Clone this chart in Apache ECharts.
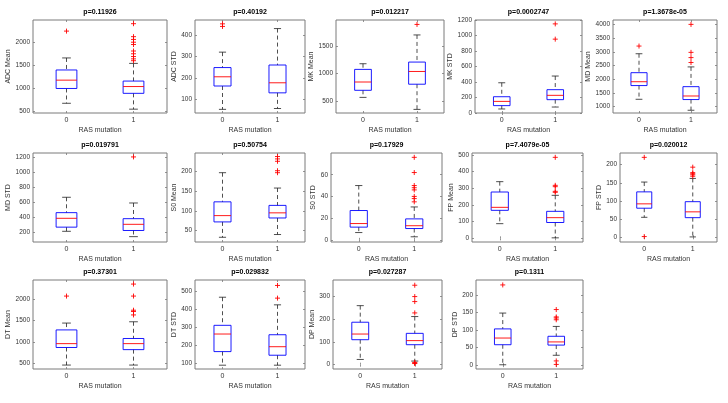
<!DOCTYPE html>
<html><head><meta charset="utf-8">
<script src="https://cdn.jsdelivr.net/npm/echarts@6/dist/echarts.min.js"></script>
<style>html,body{margin:0;padding:0;background:#fff}#c{width:728px;height:403px}</style>
</head><body><div id="c"></div>
<script>
// ---------- DATA ----------
const groups = ['0', '1'];
const xLabel = 'RAS mutation';
// box stats per group: [lower whisker, Q1, median, Q3, upper whisker]
const adcMeanBox = [[680, 1000, 1180, 1400, 1660], [553, 895, 1042, 1160, 1542]];
const adcMeanOut = [[2240], [2400, 2120, 2060, 2000, 1950, 1810, 1750, 1690, 1640, 1600]];
const adcMeanTicks = [500, 1000, 1500, 2000];

const adcStdBox = [[53, 162, 205, 248, 320], [57, 130, 177, 260, 430]];
const adcStdOut = [[452, 440], []];
const adcStdTicks = [100, 200, 300, 400];

const mkMeanBox = [[572, 700, 850, 1078, 1180], [355, 810, 1040, 1210, 1700]];
const mkMeanOut = [[], [1890]];
const mkMeanTicks = [500, 1000, 1500];

const mkStdBox = [[52, 95, 150, 210, 390], [77, 172, 228, 301, 477]];
const mkStdOut = [[], [1150, 953]];
const mkStdTicks = [0, 200, 400, 600, 800, 1000, 1200];

const mdMeanBox = [[1270, 1770, 1910, 2240, 2930], [870, 1260, 1390, 1730, 2450]];
const mdMeanOut = [[3210], [4000, 2980, 2790, 2610]];
const mdMeanTicks = [1000, 1500, 2000, 2500, 3000, 3500, 4000];

const mdStdBox = [[209, 265, 384, 460, 667], [137, 220, 303, 379, 590]];
const mdStdOut = [[], [1210]];
const mdStdTicks = [200, 400, 600, 800, 1000, 1200];

const s0MeanBox = [[33, 72, 88, 123, 197], [40, 82, 95, 114, 158]];
const s0MeanOut = [[], [238, 232, 226, 202, 197]];
const s0MeanTicks = [50, 100, 150, 200];

const s0StdBox = [[6.7, 11.7, 15, 27, 50], [2.8, 10.4, 13, 19.3, 30.3]];
const s0StdOut = [[], [76, 62, 50, 48, 46, 40, 38, 35]];
const s0StdTicks = [0, 20, 40, 60];

const fpMeanBox = [[88, 168, 186, 278, 340], [3, 95, 124, 162, 258]];
const fpMeanOut = [[], [486, 318, 310, 282, 276]];
const fpMeanTicks = [0, 100, 200, 300, 400, 500];

const fpStdBox = [[55, 80, 92, 125, 152], [1, 54, 70, 98, 162]];
const fpStdOut = [[220, 2], [193, 178, 175, 172, 168]];
const fpStdTicks = [0, 50, 100, 150, 200];

const dtMeanBox = [[460, 870, 960, 1280, 1440], [460, 820, 960, 1080, 1470]];
const dtMeanOut = [[2070], [2350, 2070, 1740, 1710, 1630]];
const dtMeanTicks = [500, 1000, 1500, 2000];

const dtStdBox = [[90, 165, 262, 310, 465], [90, 145, 192, 258, 423]];
const dtStdOut = [[], [530, 460]];
const dtStdTicks = [100, 200, 300, 400, 500];

const dpMeanBox = [[23, 110, 135, 187, 260], [16, 88, 106, 138, 212]];
const dpMeanOut = [[], [350, 300, 278, 228, 10, 7, 5]];
const dpMeanTicks = [0, 100, 200, 300];

const dpStdBox = [[1, 58, 77, 103, 148], [28, 57, 66, 82, 110]];
const dpStdOut = [[228], [158, 137, 134, 129, 12, 2]];
const dpStdTicks = [0, 50, 100, 150, 200];

const titles = ['p=0.11926', 'p=0.40192', 'p=0.012217', 'p=0.0002747', 'p=1.3678e-05',
  'p=0.019791', 'p=0.50754', 'p=0.17929', 'p=7.4079e-05', 'p=0.020012',
  'p=0.37301', 'p=0.029832', 'p=0.027287', 'p=0.1311'];
const yNames = ['ADC Mean', 'ADC STD', 'MK Mean', 'MK STD', 'MD Mean',
  'MD STD', 'S0 Mean', 'S0 STD', 'FP Mean', 'FP STD',
  'DT Mean', 'DT STD', 'DP Mean', 'DP STD'];
const boxes = [adcMeanBox, adcStdBox, mkMeanBox, mkStdBox, mdMeanBox, mdStdBox, s0MeanBox, s0StdBox,
  fpMeanBox, fpStdBox, dtMeanBox, dtStdBox, dpMeanBox, dpStdBox];
const outliers = [adcMeanOut, adcStdOut, mkMeanOut, mkStdOut, mdMeanOut, mdStdOut, s0MeanOut, s0StdOut,
  fpMeanOut, fpStdOut, dtMeanOut, dtStdOut, dpMeanOut, dpStdOut];
const yTicks = [adcMeanTicks, adcStdTicks, mkMeanTicks, mkStdTicks, mdMeanTicks, mdStdTicks, s0MeanTicks,
  s0StdTicks, fpMeanTicks, fpStdTicks, dtMeanTicks, dtStdTicks, dpMeanTicks, dpStdTicks];

// ---------- AXIS RANGES & LAYOUT ----------
const yRanges = [[470, 2480], [36, 470], [290, 1970], [0, 1200], [770, 4160],
  [65, 1263], [21, 247], [-2, 80], [-22, 512], [-13, 232],
  [368, 2445], [69, 560], [-19, 373], [-11, 242]];
// [left, top, right, bottom] in px
const layout = [
  [33, 20, 167, 113], [195, 20, 305, 113], [336, 20, 444, 113], [475, 20, 582, 113], [613, 20, 717, 113],
  [33, 153, 167, 242], [195, 153, 305, 242], [331, 153, 442, 242], [472, 153, 583, 242], [620, 153, 717, 242],
  [33, 280, 167, 369], [195, 280, 305, 369], [333, 280, 442, 369], [476, 280, 583, 369]
];

const FONT = '"Liberation Sans", Arial, sans-serif';
const frameColor = '#7a7a7a';
const textColor = '#333';

function renderBox(params, api) {
  const i = api.value(0);
  const lo = api.coord([i, api.value(1)]);
  const q1 = api.coord([i, api.value(2)]);
  const md = api.coord([i, api.value(3)]);
  const q3 = api.coord([i, api.value(4)]);
  const hi = api.coord([i, api.value(5)]);
  const bw = api.size([1, 0])[0];
  const half = bw * 0.155;
  const cap = bw * 0.065;
  const x = lo[0];
  const dash = { stroke: '#222', lineWidth: 0.8, lineDash: [4, 3] };
  const solid = { stroke: '#222', lineWidth: 0.8 };
  return {
    type: 'group', children: [
      { type: 'line', shape: { x1: x, y1: hi[1], x2: x, y2: q3[1] }, style: dash },
      { type: 'line', shape: { x1: x, y1: q1[1], x2: x, y2: lo[1] }, style: dash },
      { type: 'line', shape: { x1: x - cap, y1: hi[1], x2: x + cap, y2: hi[1] }, style: solid },
      { type: 'line', shape: { x1: x - cap, y1: lo[1], x2: x + cap, y2: lo[1] }, style: solid },
      { type: 'rect', shape: { x: x - half, y: q3[1], width: 2 * half, height: q1[1] - q3[1] },
        style: { fill: 'none', stroke: '#0000ff', lineWidth: 0.9 } },
      { type: 'line', shape: { x1: x - half, y1: md[1], x2: x + half, y2: md[1] },
        style: { stroke: '#ff0000', lineWidth: 0.9 } }
    ]
  };
}
function renderPlus(params, api) {
  const p = api.coord([api.value(0), api.value(1)]);
  const s = 2.5;
  const st = { stroke: '#ff0000', lineWidth: 0.9 };
  return {
    type: 'group', children: [
      { type: 'line', shape: { x1: p[0] - s, y1: p[1], x2: p[0] + s, y2: p[1] }, style: st },
      { type: 'line', shape: { x1: p[0], y1: p[1] - s, x2: p[0], y2: p[1] + s }, style: st }
    ]
  };
}

const grid = [], xAxis = [], yAxis = [], series = [];
titles.forEach((title, k) => {
  const [l, t, r, b] = layout[k];
  grid.push({ left: l, top: t, width: r - l, height: b - t, show: true, borderColor: frameColor, borderWidth: 1 });
  const tick = { show: true, inside: true, alignWithLabel: true, length: 2, lineStyle: { color: frameColor, width: 0.8 } };
  xAxis.push({
    gridIndex: k, type: 'category', data: groups, position: 'bottom', boundaryGap: true,
    axisLine: { show: false }, axisTick: tick, splitLine: { show: false },
    axisLabel: { fontSize: 7, color: textColor, margin: 4, fontFamily: FONT },
    name: xLabel, nameLocation: 'middle', nameGap: 14,
    nameTextStyle: { fontSize: 7, color: textColor, fontFamily: FONT }
  });
  xAxis.push({
    gridIndex: k, type: 'category', data: groups, position: 'top', boundaryGap: true,
    axisLine: { show: false }, axisTick: tick, axisLabel: { show: false }, splitLine: { show: false },
    name: title, nameLocation: 'middle', nameGap: 4,
    nameTextStyle: { fontSize: 7, fontWeight: 'bold', color: '#000', fontFamily: FONT }
  });
  const ticks = yTicks[k];
  const maxLen = Math.max(...ticks.map(v => String(v).length));
  const ytick = { show: true, inside: true, length: 2, customValues: ticks, lineStyle: { color: frameColor, width: 0.8 } };
  yAxis.push({
    gridIndex: k, type: 'value', position: 'left', min: yRanges[k][0], max: yRanges[k][1],
    axisLine: { show: false }, splitLine: { show: false }, axisTick: ytick,
    axisLabel: { fontSize: 6.5, color: textColor, margin: 3, fontFamily: FONT, customValues: ticks,
      formatter: v => String(v) },
    name: yNames[k], nameLocation: 'middle', nameGap: 1 + maxLen * 3.6,
    nameTextStyle: { fontSize: 7, color: textColor, fontFamily: FONT }
  });
  yAxis.push({
    gridIndex: k, type: 'value', position: 'right', min: yRanges[k][0], max: yRanges[k][1],
    axisLine: { show: false }, splitLine: { show: false }, axisTick: ytick,
    axisLabel: { show: false, customValues: ticks }
  });
  series.push({
    type: 'custom', xAxisIndex: 2 * k, yAxisIndex: 2 * k, renderItem: renderBox, silent: true,
    encode: { x: 0, y: [1, 2, 3, 4, 5] },
    data: boxes[k].map((s, g) => [g, ...s])
  });
  const outData = [];
  outliers[k].forEach((arr, g) => arr.forEach(v => outData.push([g, v])));
  series.push({
    type: 'custom', xAxisIndex: 2 * k, yAxisIndex: 2 * k, renderItem: renderPlus, silent: true,
    encode: { x: 0, y: 1 }, data: outData
  });
});

const chart = echarts.init(document.getElementById('c'), null, { renderer: 'canvas' });
chart.setOption({ animation: false, backgroundColor: '#fff', grid, xAxis, yAxis, series });
</script>
</body></html>
